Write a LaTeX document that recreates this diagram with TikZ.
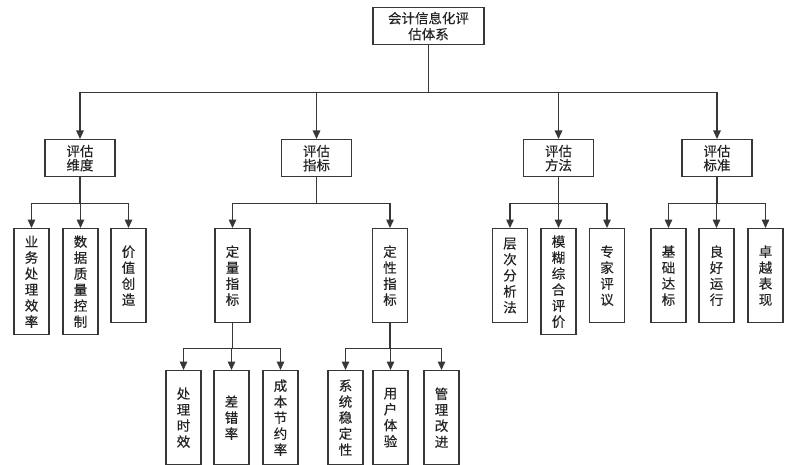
\documentclass[tikz,border=0pt]{standalone}
\usepackage{fontspec}
\newfontfamily\cjk[FakeBold=0.3]{Noto Sans CJK SC}
\usetikzlibrary{arrows.meta}
\definecolor{lncol}{RGB}{55,55,55}
\definecolor{txcol}{RGB}{35,35,35}

\begin{document}
\begin{tikzpicture}[x=1pt,y=1pt,yscale=-1,xscale=1,
  box/.style={draw=lncol,line width=1.3pt,text=txcol,align=center,inner sep=0pt,anchor=north},
  hbox/.style={box,minimum width=70pt,minimum height=37pt,font=\cjk\fontsize{13.5}{14}\selectfont},
  vbox/.style={box,minimum width=35pt,minimum height=94pt,font=\cjk\fontsize{13.5}{16}\selectfont},
  arr/.style={draw=lncol,line width=1.4pt,-{Triangle[length=8.5pt,width=7.5pt]}}]
\useasboundingbox (0,0) rectangle (786,465);

% Root Node
\node (root) [box,minimum width=111pt,minimum height=37pt,font=\cjk\fontsize{13.5}{16}\selectfont] at (428.5,7) {会计信息化评\\估体系};

% Level 2 Nodes
\node (dim) [hbox] at (80,139) {评估\\维度};
\node (ind) [hbox] at (316.5,139) {评估\\指标};
\node (meth) [hbox] at (558.5,139) {评估\\方法};
\node (std) [hbox] at (717,139) {评估\\标准};

% Level 3 Nodes
\node (eff) [vbox,minimum height=106pt] at (31.5,228) {业\\务\\处\\理\\效\\率};
\node (dqc) [vbox,minimum height=106pt] at (80.5,228) {数\\据\\质\\量\\控\\制};
\node (val) [vbox] at (128.5,228) {价\\值\\创\\造};
\node (quan) [vbox] at (232.5,228) {定\\量\\指\\标};
\node (qual) [vbox] at (390,228) {定\\性\\指\\标};
\node (ahp) [vbox] at (510,228) {层\\次\\分\\析\\法};
\node (fuz) [vbox,minimum height=106pt] at (558.5,228) {模\\糊\\综\\合\\评\\价};
\node (expt) [vbox] at (607,228) {专\\家\\评\\议};
\node (bas) [vbox] at (668.5,228) {基\\础\\达\\标};
\node (good) [vbox] at (716.5,228) {良\\好\\运\\行};
\node (exc) [vbox] at (765.5,228) {卓\\越\\表\\现};

% Level 4 Nodes
\node (tim) [vbox] at (183.5,370) {处\\理\\时\\效};
\node (err) [vbox] at (231.5,370) {差\\错\\率};
\node (cost) [vbox] at (280.5,370) {成\\本\\节\\约\\率};
\node (sta) [vbox] at (345.5,370) {系\\统\\稳\\定\\性};
\node (ux) [vbox] at (390.5,370) {用\\户\\体\\验};
\node (mgmt) [vbox] at (441.5,370) {管\\理\\改\\进};

% Root to level 2
\foreach \c in {dim,ind,meth,std}
  \draw[arr] (root.south) -- ++(0,47) -| (\c.north);

% Level 2 to level 3
\foreach \c in {eff,dqc,val}
  \draw[arr] (dim.south) -- ++(0,26) -| (\c.north);
\foreach \c in {quan,qual}
  \draw[arr] (ind.south) -- ++(0,26) -| (\c.north);
\foreach \c in {ahp,fuz,expt}
  \draw[arr] (meth.south) -- ++(0,26) -| (\c.north);
\foreach \c in {bas,good,exc}
  \draw[arr] (std.south) -- ++(0,26) -| (\c.north);

% Level 3 to level 4
\foreach \c in {tim,err,cost}
  \draw[arr] (quan.south) -- ++(0,25) -| (\c.north);
\foreach \c in {sta,ux,mgmt}
  \draw[arr] (qual.south) -- ++(0,25) -| (\c.north);
\end{tikzpicture}
\end{document}
